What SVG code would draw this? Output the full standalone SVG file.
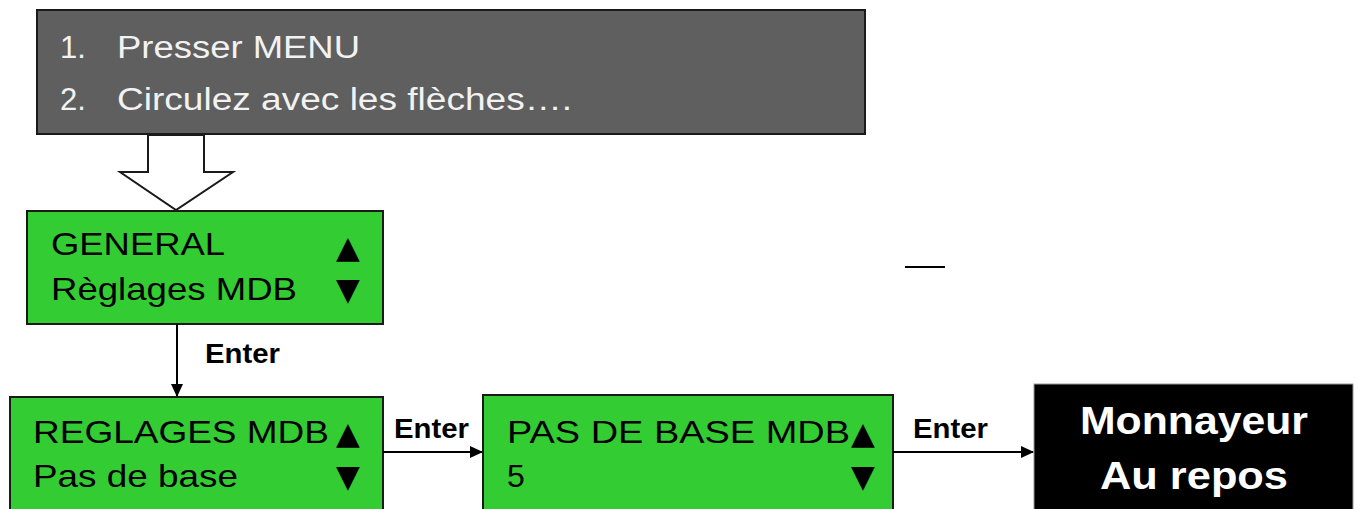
<svg xmlns="http://www.w3.org/2000/svg" width="1357" height="509" viewBox="0 0 1357 509">
<style>
.box{stroke:#1a1a1a;stroke-width:2}
.green{fill:#33cc33}
.t{font-family:"Liberation Sans",Arial,sans-serif;font-size:32px;fill:#000}
.w{font-family:"Liberation Sans",Arial,sans-serif;font-size:31px;fill:#f2f2f2}
.lbl{font-family:"Liberation Sans",Arial,sans-serif;font-size:27px;font-weight:bold;fill:#000}
.big{font-family:"Liberation Sans",Arial,sans-serif;font-size:39px;font-weight:bold;fill:#fff}
.tri{font-family:"DejaVu Sans",sans-serif;font-size:31px;fill:#000}
.conn{stroke:#000;stroke-width:2;fill:none}
</style>
<defs>
<marker id="ah" markerWidth="13" markerHeight="12" refX="12" refY="6" orient="auto" markerUnits="userSpaceOnUse">
<path d="M0,0 L13,6 L0,12 z" fill="#000"/>
</marker>
</defs>
<rect width="1357" height="509" fill="#fff"/>
<g id="instructions">
<rect class="box" x="37" y="10" width="828" height="124" fill="#5f5f5f"/>
<text class="w" x="60" y="58">1.</text>
<text class="w" x="117" y="58" textLength="243" lengthAdjust="spacingAndGlyphs">Presser MENU</text>
<text class="w" x="60" y="110">2.</text>
<text class="w" x="117" y="110" textLength="455" lengthAdjust="spacingAndGlyphs">Circulez avec les flèches….</text>
</g>
<g id="general">
<rect class="box green" x="27" y="211" width="356" height="113"/>
<text class="t" x="51" y="255" textLength="174" lengthAdjust="spacingAndGlyphs">GENERAL</text>
<text class="t" x="51" y="300" textLength="246" lengthAdjust="spacingAndGlyphs">Règlages MDB</text>
<text class="tri" x="336" y="258">▲</text>
<text class="tri" x="336" y="300">▼</text>
</g>
<g id="reglages">
<rect class="box green" x="10" y="397" width="373" height="120"/>
<text class="t" x="33" y="443" textLength="296" lengthAdjust="spacingAndGlyphs">REGLAGES MDB</text>
<text class="t" x="33" y="487" textLength="205" lengthAdjust="spacingAndGlyphs">Pas de base</text>
<text class="tri" x="336" y="444">▲</text>
<text class="tri" x="336" y="487">▼</text>
</g>
<g id="pasdebase">
<rect class="box green" x="483" y="395" width="410" height="122"/>
<text class="t" x="507" y="443" textLength="343" lengthAdjust="spacingAndGlyphs">PAS DE BASE MDB</text>
<text class="t" x="507" y="487">5</text>
<text class="tri" x="851" y="444">▲</text>
<text class="tri" x="851" y="487">▼</text>
</g>
<g id="monnayeur">
<rect x="1034" y="384" width="319" height="133" fill="#000" stroke="#999" stroke-width="1"/>
<text class="big" x="1194" y="434" text-anchor="middle" textLength="228" lengthAdjust="spacingAndGlyphs">Monnayeur</text>
<text class="big" x="1194" y="489" text-anchor="middle" textLength="188" lengthAdjust="spacingAndGlyphs">Au repos</text>
</g>
<g id="connectors">
<polygon points="148,135 204,135 204,172 233,172 176,210 120,172 148,172" fill="#fff" stroke="#1a1a1a" stroke-width="2"/>
<line class="conn" x1="177" y1="324" x2="177" y2="396" marker-end="url(#ah)"/>
<text class="lbl" x="205" y="363" textLength="75" lengthAdjust="spacingAndGlyphs">Enter</text>
<line class="conn" x1="383" y1="452" x2="482" y2="452" marker-end="url(#ah)"/>
<text class="lbl" x="394" y="438" textLength="75" lengthAdjust="spacingAndGlyphs">Enter</text>
<line class="conn" x1="893" y1="452" x2="1033" y2="452" marker-end="url(#ah)"/>
<text class="lbl" x="913" y="438" textLength="75" lengthAdjust="spacingAndGlyphs">Enter</text>
<line class="conn" x1="905" y1="267" x2="945" y2="267"/>
</g>
</svg>
